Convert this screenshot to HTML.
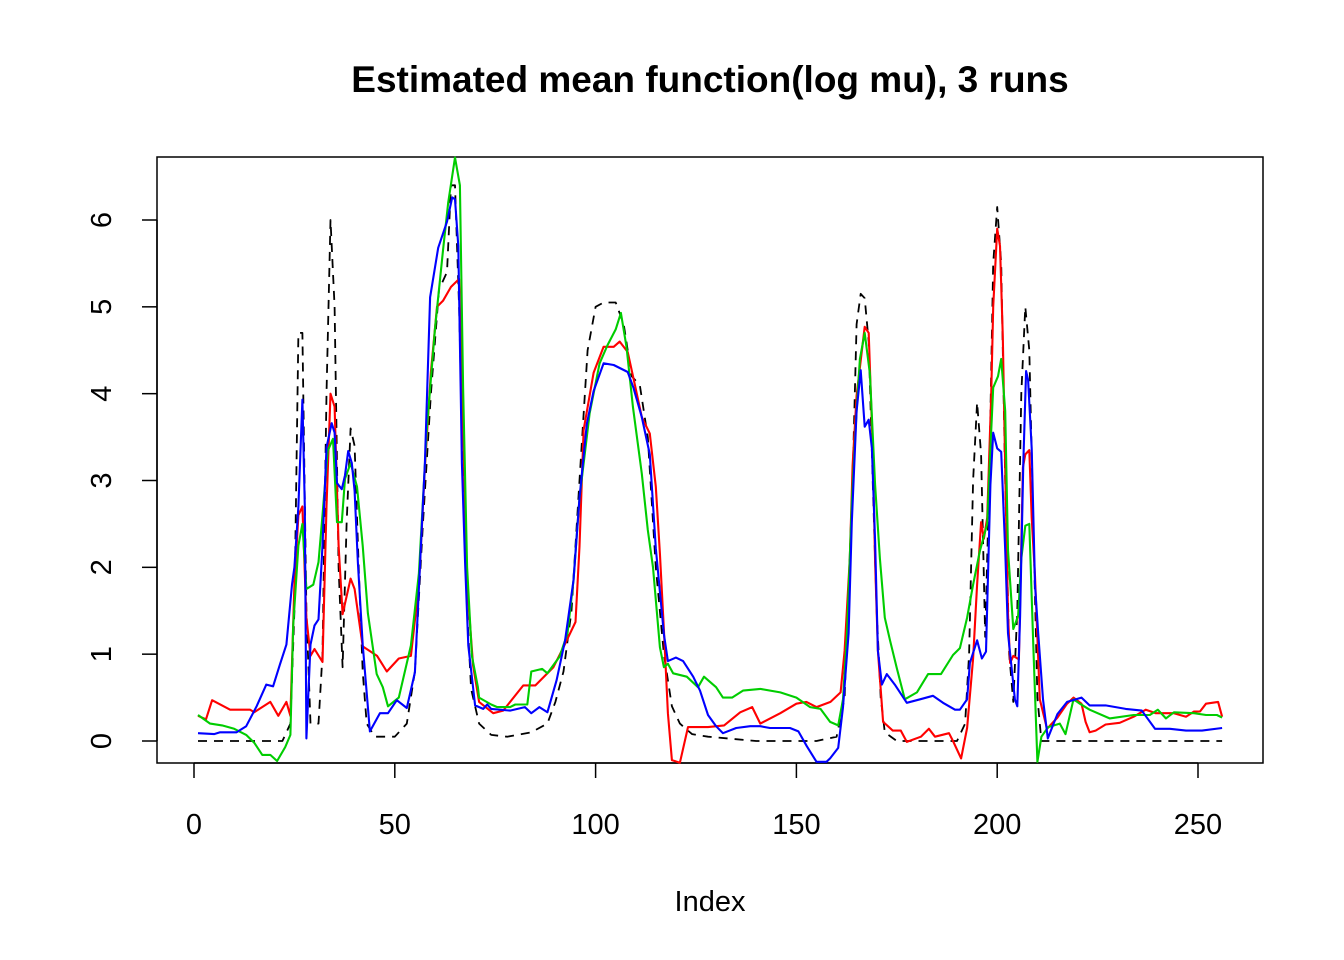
<!DOCTYPE html>
<html><head><meta charset="utf-8"><style>
html,body{margin:0;padding:0;background:#fff;}
svg{display:block;font-family:"Liberation Sans",Arial,sans-serif;}
</style></head><body>
<svg id="chart" width="1344" height="960" viewBox="0 0 1344 960" xmlns="http://www.w3.org/2000/svg">
<rect x="0" y="0" width="1344" height="960" fill="#fff"/>
<text x="710" y="92" text-anchor="middle" font-size="37" font-weight="bold">Estimated mean function(log mu), 3 runs</text>
<rect x="157" y="157" width="1106" height="606" fill="none" stroke="#000" stroke-width="1.5"/>
<g id="xaxis"></g>
<g id="yaxis"></g>
<text x="710" y="911" text-anchor="middle" font-size="29">Index</text>
<g id="series"></g>
</svg>
<script>
const xTicks = [0, 50, 100, 150, 200, 250];
const yTicks = [0, 1, 2, 3, 4, 5, 6];

const truthIdx = [1,22,24,25,26,27,28,29,31,32,33,34,35,36,37,38,39,40,41,42,43,45,50,53,55,57,59,61,63,64,65,66,67,68,69,71,74,78,84,88,90,92,94,96,98,100,102,105,107,109,111,113,115,117,119,121,124,128,140,155,160,162,164,165,166,167,168,169,170,171,172,175,190,192,193,194,195,196,197,198,199,200,201,202,203,204,205,206,207,208,209,210,211,256];
const truthVal = [0,0,0.2,1.5,4.7,4.7,1.5,0.2,0.2,1,4,6.0,5.0,2.0,0.85,2.5,3.6,3.4,2.0,0.8,0.2,0.05,0.05,0.2,0.8,2.5,4.0,5.2,5.4,6.4,6.4,5.0,3,1.5,0.6,0.2,0.07,0.05,0.1,0.2,0.45,0.8,1.5,3.0,4.5,5.0,5.05,5.05,4.8,4.2,4.1,3.5,2,1,0.4,0.2,0.08,0.05,0,0,0.05,0.5,3,4.8,5.15,5.1,4.6,3,1.5,0.5,0.1,0,0,0.2,1,3,3.9,3.3,1.2,3,5.5,6.15,5.5,3,1,0.45,1.5,4,5.0,4.5,2.5,0.5,0,0];

const redIdx = [1,3,4.5,9,14,15,19,21,23,24,25,26,27,28,29,30,32,33,34,35,36,37,39,40,42,45.6,48,51,54,56,57.5,59,60.5,62,64,66,67,68,69.5,71,74.5,77,82,85,89.5,92,95,96,97,99.5,102,104.5,106,108,109.5,111.5,113.5,115,116,117,118,119,121,123,128,132,136,139,141,146,150,152.5,155,158.5,161,162,163.3,164,165,167,168,169,169.6,170.3,171.6,174,176,177.5,181,183,184.5,188,189,191,192.5,194,195,196,196.7,197.5,198.5,199,200,200.7,201.4,202,202.7,203.2,204,205.4,206.4,207,208,208.6,209.4,210.6,212.4,215,217.4,219,221,222,223,224.5,227,230.5,234,237,239.5,244,247,249,250.5,252,255,256];
const redVal = [0.29,0.25,0.47,0.36,0.36,0.33,0.45,0.29,0.45,0.29,1.8,2.6,2.7,1.42,0.98,1.06,0.91,2.7,4.0,3.85,2.25,1.46,1.87,1.75,1.09,0.98,0.8,0.95,0.98,1.8,3.15,4.25,5.0,5.07,5.23,5.32,3.6,1.8,0.87,0.45,0.32,0.35,0.64,0.64,0.85,1.08,1.37,2.24,3.58,4.24,4.54,4.54,4.6,4.48,4.16,3.73,3.54,2.93,2.16,1.28,0.32,-0.22,-0.25,0.16,0.16,0.18,0.33,0.39,0.2,0.32,0.43,0.45,0.39,0.45,0.56,1.04,2.1,3.17,3.98,4.77,4.7,3.37,2.07,1.04,0.22,0.12,0.12,-0.01,0.05,0.14,0.05,0.09,0,-0.2,0.15,0.95,1.8,2.52,2.33,2.57,3.98,5.0,5.9,5.7,4.66,3.15,1.46,0.9,0.98,0.94,3.15,3.3,3.35,2.57,1.9,0.48,0.14,0.27,0.43,0.5,0.43,0.22,0.1,0.12,0.19,0.21,0.28,0.36,0.32,0.32,0.28,0.34,0.34,0.43,0.45,0.28];

const greenIdx = [1,4,7,10,13,15,17,19,20.7,22.7,24,24.7,26,27,28,29.7,31,32,33.3,34.6,35.6,36.8,37.6,39,40.6,42,43.3,45.5,47,48.3,51,54,56,58,60,62,63.3,65,66.2,67,68,69.2,70.7,71,74,75.5,78.7,80,83,84,86.7,88,91,93,94.5,96,98.5,101,103,105,106.3,107.7,109.3,111.5,113,114.3,116,117,118,119.3,122.7,125.5,127,130,131.7,134,136.7,141,146,150,153.4,156,158.4,160.4,161.6,162.6,163.8,165,165.8,167,168.3,169.6,170.8,172,173.3,175,177,180,182.8,186,189,190.7,192.5,194,195.7,197.5,198.3,199,200.2,201,202,202.7,204,205.2,206,207,208,209,210,211,212.7,215.6,217,219,220.6,223,228,234,238,240,242,244,249,252,254.7,256];
const greenVal = [0.3,0.2,0.18,0.14,0.07,-0.02,-0.16,-0.16,-0.23,-0.07,0.07,1.33,2.25,2.5,1.75,1.8,2.06,2.6,3.34,3.48,2.52,2.52,3.02,3.2,2.93,2.25,1.47,0.77,0.62,0.4,0.5,1.1,1.93,3.6,4.75,5.65,6.2,6.72,6.4,4.07,2.0,0.98,0.62,0.5,0.42,0.39,0.39,0.42,0.42,0.8,0.83,0.78,0.97,1.24,1.85,2.8,3.77,4.35,4.56,4.74,4.93,4.54,3.85,3.08,2.43,2.0,1.08,0.85,0.89,0.78,0.74,0.62,0.74,0.62,0.5,0.5,0.58,0.6,0.56,0.5,0.39,0.37,0.22,0.18,0.48,1.24,2.74,3.81,4.4,4.7,4.23,2.95,2.1,1.42,1.16,0.84,0.48,0.56,0.77,0.77,0.99,1.07,1.42,1.8,2.19,2.5,3.37,4.07,4.2,4.4,3.8,2.2,1.29,1.44,2.1,2.48,2.5,1.1,-0.24,0.05,0.16,0.2,0.08,0.48,0.43,0.36,0.26,0.3,0.3,0.36,0.26,0.33,0.32,0.3,0.3,0.27];

const blueIdx = [1,5,6.5,10.6,13,15.6,18,19.7,21.4,23,24.4,25,26,27,27.6,28,29,30,31,32,33,34.3,35,35.6,36.8,37.6,38.4,39.3,40,40.8,42,43.8,46.3,48.3,50.5,53,55,56.3,57.5,58.8,60.8,63,64.3,65,65.8,66.7,67.5,68.3,70,72,73,74,78.7,82.4,84,86,88,90.3,92.4,94.5,96,97.8,99.5,102,104.5,108,109.4,111.5,113.5,115,117,118,120,121.8,124.3,126,128,130,131.7,135,138.5,141,143.4,148.4,150.5,152.6,155,157.5,158.4,160.4,161.6,163,163.8,165,166,167,168,168.8,169.6,170.3,171.3,172.5,174.5,177.5,180.8,184,186.5,189.5,190.7,192.5,193.2,195,196.2,197.2,198.3,199,200,201,202,202.7,204.4,205,205.7,206.5,207.2,207.7,208.6,209.4,210.2,211.4,212.6,215,217.4,221,223,227,232,236,239.3,243,247,251,256];
const blueVal = [0.09,0.08,0.1,0.1,0.17,0.4,0.65,0.63,0.88,1.11,1.8,2.0,2.7,3.93,2.7,0.03,1.11,1.33,1.4,2.25,3.38,3.66,3.55,2.97,2.9,3.06,3.34,3.2,2.88,2.05,1.11,0.11,0.32,0.32,0.47,0.38,0.79,2.05,3.2,5.11,5.68,5.98,6.26,6.24,5.7,3.2,2.05,1.1,0.41,0.37,0.42,0.37,0.35,0.39,0.32,0.39,0.33,0.7,1.16,1.85,2.8,3.65,4.03,4.35,4.33,4.25,4.07,3.73,3.3,2.22,1.23,0.92,0.96,0.92,0.74,0.58,0.3,0.17,0.09,0.15,0.17,0.17,0.15,0.15,0.11,-0.06,-0.24,-0.24,-0.2,-0.08,0.39,1.24,2.52,3.8,4.27,3.62,3.7,3.37,2.3,1.04,0.65,0.77,0.65,0.44,0.48,0.52,0.44,0.36,0.36,0.48,0.9,1.16,0.95,1.03,2.95,3.55,3.37,3.33,2.2,1.24,0.48,0.4,1.44,3.2,4.26,4.16,3.37,1.8,1.24,0.48,0.03,0.31,0.45,0.5,0.41,0.41,0.37,0.35,0.14,0.14,0.12,0.12,0.15];

const NS = "http://www.w3.org/2000/svg";
function xs(i){ return 194 + (i) * (1198 - 194) / 250; }
function ys(v){ return 741 - v * (741 - 220) / 6; }

const xg = document.getElementById('xaxis');
const yg = document.getElementById('yaxis');
let axl = document.createElementNS(NS,'line');
axl.setAttribute('x1', xs(xTicks[0])); axl.setAttribute('x2', xs(xTicks[xTicks.length-1]));
axl.setAttribute('y1', 763); axl.setAttribute('y2', 763);
axl.setAttribute('stroke','#000'); axl.setAttribute('stroke-width','1.5');


xg.appendChild(axl);
xTicks.forEach(t => {
  const l = document.createElementNS(NS,'line');
  l.setAttribute('x1', xs(t)); l.setAttribute('x2', xs(t));
  l.setAttribute('y1', 763); l.setAttribute('y2', 778);
  l.setAttribute('stroke','#000'); l.setAttribute('stroke-width','1.5');
  
  
  xg.appendChild(l);
  const tx = document.createElementNS(NS,'text');
  tx.setAttribute('x', xs(t)); tx.setAttribute('y', 834);
  tx.setAttribute('text-anchor','middle'); tx.setAttribute('font-size','29');
  tx.textContent = t;
  
  
  xg.appendChild(tx);
});
let ayl = document.createElementNS(NS,'line');
ayl.setAttribute('x1', 157); ayl.setAttribute('x2', 157);
ayl.setAttribute('y1', ys(yTicks[0])); ayl.setAttribute('y2', ys(yTicks[yTicks.length-1]));
ayl.setAttribute('stroke','#000'); ayl.setAttribute('stroke-width','1.5');


yg.appendChild(ayl);
yTicks.forEach(t => {
  const l = document.createElementNS(NS,'line');
  l.setAttribute('x1', 142); l.setAttribute('x2', 157);
  l.setAttribute('y1', ys(t)); l.setAttribute('y2', ys(t));
  l.setAttribute('stroke','#000'); l.setAttribute('stroke-width','1.5');
  
  
  yg.appendChild(l);
  const tx = document.createElementNS(NS,'text');
  tx.setAttribute('transform', 'translate(111,' + ys(t) + ') rotate(-90)');
  tx.setAttribute('text-anchor','middle'); tx.setAttribute('font-size','29');
  tx.textContent = t;
  
  
  yg.appendChild(tx);
});

const sg = document.getElementById('series');
function drawLine(idx, vals, color, width, dash, name){
  const p = document.createElementNS(NS,'polyline');
  p.setAttribute('points', idx.map((i,k)=> xs(i).toFixed(1)+','+ys(vals[k]).toFixed(1)).join(' '));
  p.setAttribute('fill','none'); p.setAttribute('stroke',color);
  p.setAttribute('stroke-width',width); p.setAttribute('stroke-linejoin','round');
  if (dash) p.setAttribute('stroke-dasharray', dash);
  
  
  sg.appendChild(p);
}
drawLine(truthIdx, truthVal, '#000', 1.8, '9,7', 'true-mean-dashed-line');
drawLine(redIdx, redVal, '#ff0000', 2.1, null, 'run1-red-line');
drawLine(greenIdx, greenVal, '#00cd00', 2.1, null, 'run2-green-line');
drawLine(blueIdx, blueVal, '#0000ff', 2.1, null, 'run3-blue-line');
</script>
</body></html>
